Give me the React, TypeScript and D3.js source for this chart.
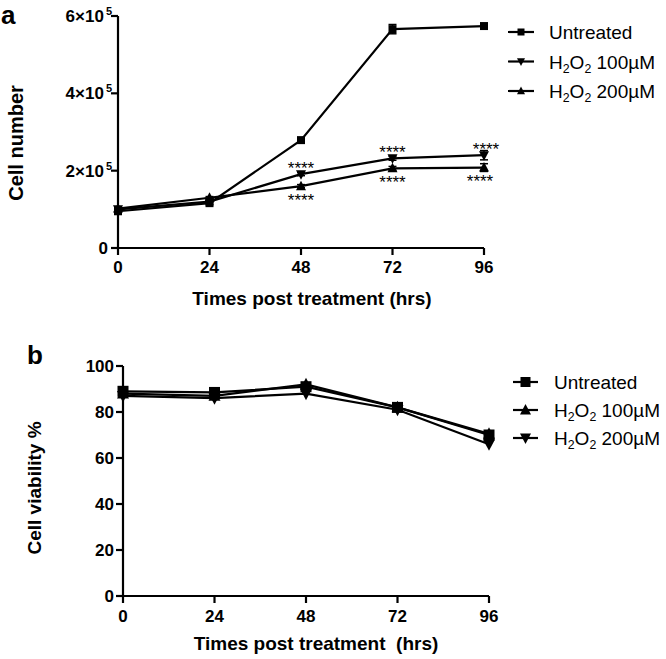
import React from "react";
import * as d3 from "d3";

const hours = [0, 24, 48, 72, 96];

// Panel a: cell number
const aUntreated = [95000, 116000, 279000, 566000, 574000];
const aUntreatedErr = [5000, 4000, 5000, 12000, 5000];
const a100 = [100000, 120000, 191000, 232000, 240000];
const a100Err = [4000, 3000, 4000, 5000, 12000];
const a200 = [102000, 130000, 160000, 206000, 208000];
const a200Err = [4000, 3000, 4000, 5000, 10000];
const aYTicks = [0, 200000, 400000, 600000];
const aYTickLabels = ["0", "2×10", "4×10", "6×10"];
const aSigIdx = [2, 3, 4];

// Panel b: cell viability
const bUntreated = [89, 88.5, 91, 82, 70];
const b100 = [88, 87, 92, 82, 70.5];
const b200 = [87, 86, 88, 81, 66];
const bYTicks = [0, 20, 40, 60, 80, 100];

const FONT = "'Liberation Sans', Arial, Helvetica, sans-serif";

type Shape = "square" | "up" | "down";

function Marker({ x, y, shape, size }: { x: number; y: number; shape: Shape; size: number }) {
  const h = size / 2;
  if (shape === "square") return <rect x={x - h} y={y - h} width={size} height={size} fill="#000" />;
  if (shape === "up")
    return <path d={`M${x},${y - h * 1.1}L${x + h},${y + h * 0.8}L${x - h},${y + h * 0.8}Z`} fill="#000" />;
  return <path d={`M${x},${y + h * 1.1}L${x + h},${y - h * 0.8}L${x - h},${y - h * 0.8}Z`} fill="#000" />;
}

function H2O2({ x, y, label, fs }: { x: number; y: number; label: string; fs: number }) {
  return (
    <text x={x} y={y} fontSize={fs} fontFamily={FONT}>
      H<tspan fontSize={fs * 0.65} dy={fs * 0.22}>2</tspan>
      <tspan dy={-fs * 0.22}>O</tspan>
      <tspan fontSize={fs * 0.65} dy={fs * 0.22}>2</tspan>
      <tspan dy={-fs * 0.22}>{" " + label}</tspan>
    </text>
  );
}

export default function App() {
  // Panel a scales
  const ax = d3.scaleLinear().domain([0, 96]).range([118, 484]);
  const ay = d3.scaleLinear().domain([0, 600000]).range([248, 16]);
  // Panel b scales
  const bx = d3.scaleLinear().domain([0, 96]).range([123, 489]);
  const by = d3.scaleLinear().domain([0, 100]).range([596, 366]);

  const aLine = (vals: number[]) =>
    d3.line<number>().x((_, i) => ax(hours[i])).y((v) => ay(v))(vals) as string;
  const bLine = (vals: number[]) =>
    d3.line<number>().x((_, i) => bx(hours[i])).y((v) => by(v))(vals) as string;

  const aSeries = [
    { vals: aUntreated, err: aUntreatedErr, shape: "square" as Shape, size: 8 },
    { vals: a100, err: a100Err, shape: "down" as Shape, size: 10 },
    { vals: a200, err: a200Err, shape: "up" as Shape, size: 10 },
  ];
  const bSeries = [
    { vals: bUntreated, shape: "square" as Shape, size: 11 },
    { vals: b100, shape: "up" as Shape, size: 12 },
    { vals: b200, shape: "down" as Shape, size: 12 },
  ];

  const tickFs = 17;
  const titleFs = 19;
  const legFs = 19;
  const starFs = 17;

  return (
    <svg width={666} height={659} style={{ position: "absolute", left: 0, top: 0 }} fontFamily={FONT}>
      <rect width={666} height={659} fill="#fff" />
      {/* ===== Panel a ===== */}
      <text x={1} y={24} fontSize={26} fontWeight="bold">a</text>
      <line x1={ax(0)} x2={ax(0)} y1={ay(600000)} y2={ay(0) + 1} stroke="#000" strokeWidth={2.2} />
      <line x1={ax(0) - 1} x2={ax(96)} y1={ay(0)} y2={ay(0)} stroke="#000" strokeWidth={2.2} />
      {aYTicks.map((t, i) => (
        <g key={"ayt" + i}>
          <line x1={ax(0) - 7} x2={ax(0)} y1={ay(t)} y2={ay(t)} stroke="#000" strokeWidth={2.2} />
          <text x={ax(0) - (t === 0 ? 10 : 6)} y={ay(t) + 6} fontSize={tickFs} fontWeight="bold" textAnchor="end">
            {t === 0 ? (
              "0"
            ) : (
              <>
                {aYTickLabels[i]}
                <tspan fontSize={11} dy={-7} dx={2}>5</tspan>
              </>
            )}
          </text>
        </g>
      ))}
      {hours.map((h) => (
        <g key={"axt" + h}>
          <line x1={ax(h)} x2={ax(h)} y1={ay(0)} y2={ay(0) + 7} stroke="#000" strokeWidth={2.2} />
          <text x={ax(h)} y={ay(0) + 25} fontSize={tickFs} fontWeight="bold" textAnchor="middle">{h}</text>
        </g>
      ))}
      <text x={312} y={305} fontSize={titleFs} fontWeight="bold" textAnchor="middle">Times post treatment (hrs)</text>
      <text transform={`translate(23,143) rotate(-90)`} fontSize={20} fontWeight="bold" textAnchor="middle">Cell number</text>
      {aSeries.map((s, si) => (
        <g key={"as" + si}>
          <path d={aLine(s.vals)} fill="none" stroke="#000" strokeWidth={2.2} />
          {s.vals.map((v, i) => (
            <g key={i}>
              <line x1={ax(hours[i])} x2={ax(hours[i])} y1={ay(v - s.err[i])} y2={ay(v + s.err[i])} stroke="#000" strokeWidth={1.5} />
              <line x1={ax(hours[i]) - 4} x2={ax(hours[i]) + 4} y1={ay(v - s.err[i])} y2={ay(v - s.err[i])} stroke="#000" strokeWidth={1.5} />
              <line x1={ax(hours[i]) - 4} x2={ax(hours[i]) + 4} y1={ay(v + s.err[i])} y2={ay(v + s.err[i])} stroke="#000" strokeWidth={1.5} />
              <Marker x={ax(hours[i])} y={ay(v)} shape={s.shape} size={s.size} />
            </g>
          ))}
        </g>
      ))}
      {aSigIdx.map((i) => (
        <g key={"sig" + i}>
          <text x={ax(hours[i]) + (i === 4 ? 2 : 0)} y={ay(a100[i]) - 10 + 9.5} fontSize={starFs} textAnchor="middle">****</text>
          <text x={ax(hours[i]) - (i === 4 ? 4 : 0)} y={ay(a200[i]) + 10 + 9.5} fontSize={starFs} textAnchor="middle">****</text>
        </g>
      ))}
      {["Untreated", "100µM", "200µM"].map((lab, i) => {
        const y = 32 + i * 29.5;
        const shape: Shape = i === 0 ? "square" : i === 1 ? "down" : "up";
        return (
          <g key={"la" + i}>
            <line x1={508} x2={534} y1={y} y2={y} stroke="#000" strokeWidth={2.2} />
            <Marker x={521} y={y} shape={shape} size={i === 0 ? 7 : 8} />
            {i === 0 ? (
              <text x={549} y={y + 7} fontSize={legFs}>{lab}</text>
            ) : (
              <H2O2 x={549} y={y + 7} label={lab} fs={legFs} />
            )}
          </g>
        );
      })}

      {/* ===== Panel b ===== */}
      <text x={27} y={364} fontSize={26} fontWeight="bold">b</text>
      <line x1={bx(0)} x2={bx(0)} y1={by(100)} y2={by(0) + 1} stroke="#000" strokeWidth={2.2} />
      <line x1={bx(0) - 1} x2={bx(96)} y1={by(0)} y2={by(0)} stroke="#000" strokeWidth={2.2} />
      {bYTicks.map((t) => (
        <g key={"byt" + t}>
          <line x1={bx(0) - 7} x2={bx(0)} y1={by(t)} y2={by(t)} stroke="#000" strokeWidth={2.2} />
          <text x={bx(0) - 9} y={by(t) + 6} fontSize={tickFs} fontWeight="bold" textAnchor="end">{t}</text>
        </g>
      ))}
      {hours.map((h) => (
        <g key={"bxt" + h}>
          <line x1={bx(h)} x2={bx(h)} y1={by(0)} y2={by(0) + 7} stroke="#000" strokeWidth={2.2} />
          <text x={bx(h)} y={by(0) + 26} fontSize={tickFs} fontWeight="bold" textAnchor="middle">{h}</text>
        </g>
      ))}
      <text x={316} y={650} fontSize={titleFs} fontWeight="bold" textAnchor="middle" style={{ whiteSpace: "pre" }}>{"Times post treatment  (hrs)"}</text>
      <text transform={`translate(41,488) rotate(-90)`} fontSize={titleFs} fontWeight="bold" textAnchor="middle">Cell viability %</text>
      {bSeries.map((s, si) => (
        <g key={"bs" + si}>
          <path d={bLine(s.vals)} fill="none" stroke="#000" strokeWidth={2.2} />
          {s.vals.map((v, i) => (
            <Marker key={i} x={bx(hours[i])} y={by(v)} shape={s.shape} size={s.size} />
          ))}
        </g>
      ))}
      {["Untreated", "100µM", "200µM"].map((lab, i) => {
        const y = 382 + i * 28;
        const shape: Shape = i === 0 ? "square" : i === 1 ? "up" : "down";
        return (
          <g key={"lb" + i}>
            <line x1={513} x2={538} y1={y} y2={y} stroke="#000" strokeWidth={2.2} />
            <Marker x={525.5} y={y} shape={shape} size={i === 0 ? 10 : 11} />
            {i === 0 ? (
              <text x={554} y={y + 7} fontSize={legFs}>{lab}</text>
            ) : (
              <H2O2 x={554} y={y + 7} label={lab} fs={legFs} />
            )}
          </g>
        );
      })}
    </svg>
  );
}
